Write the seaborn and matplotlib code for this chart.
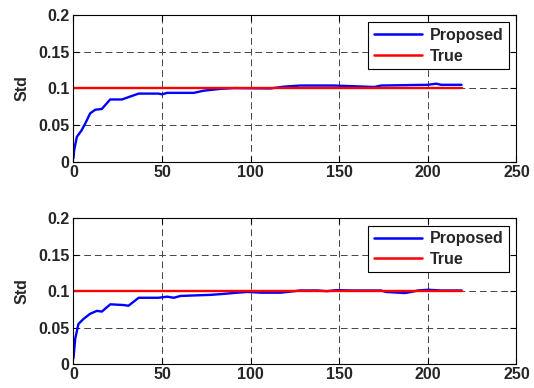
import numpy as np
import pandas as pd
import matplotlib
matplotlib.use("Agg")
import matplotlib.pyplot as plt
import seaborn as sns

# ---- data ----
top_x = [0, 0.4, 1.9, 4.6, 6.6, 9.4, 12.3, 16, 17.8, 20.7, 27.4, 32, 36.8, 48, 50,
         52.8, 60.4, 67.9, 73.6, 83, 90.5, 111, 118.8, 128, 137.7, 147, 169.8,
         173.6, 200, 204.7, 207.5, 219]
top_y = [0.005, 0.016, 0.034, 0.043, 0.052, 0.066, 0.071, 0.072, 0.077, 0.085, 0.085,
         0.089, 0.093, 0.093, 0.092, 0.094, 0.094, 0.094, 0.097, 0.0995, 0.1005,
         0.100, 0.1025, 0.104, 0.104, 0.104, 0.102, 0.104, 0.105, 0.1065, 0.105, 0.105]

bot_x = [0, 0.4, 1, 2.8, 5.7, 9.4, 13.2, 16, 20.8, 28.3, 31, 36.8, 48, 52.8, 56.6,
         60.4, 77.4, 83, 87.8, 92.5, 98, 105.7, 117, 124.5, 128, 137.7, 143, 148.5,
         156.4, 173.5, 176.4, 186.8, 190.6, 194.4, 200, 207.5, 219]
bot_y = [0.008, 0.019, 0.035, 0.055, 0.062, 0.069, 0.073, 0.072, 0.082, 0.081, 0.080,
         0.091, 0.091, 0.0925, 0.091, 0.0935, 0.095, 0.096, 0.097, 0.098, 0.099,
         0.098, 0.098, 0.100, 0.101, 0.101, 0.100, 0.1015, 0.101, 0.101, 0.099,
         0.0975, 0.099, 0.101, 0.102, 0.101, 0.101]

true_x = [0, 219]
true_y = [0.1, 0.1]

x_ticks = [0, 50, 100, 150, 200, 250]
y_ticks = [0, 0.05, 0.1, 0.15, 0.2]
y_ticklabels = ["0", "0.05", "0.1", "0.15", "0.2"]
series_names = ["Proposed", "True"]
ylabel = "Std"

sns.set_theme(style="white")
plt.rcParams["font.family"] = ["Liberation Sans", "DejaVu Sans"]
plt.rcParams["font.weight"] = "bold"

fig = plt.figure(figsize=(5.34, 3.88), dpi=100)
ax1 = fig.add_axes([0.1376, 0.583, 0.8296, 0.378])
ax2 = fig.add_axes([0.1376, 0.0619, 0.8296, 0.3751])

palette = {"Proposed": (0, 0, 1), "True": (1, 0, 0)}
FS = 11.5

for ax, xs, ys in [(ax1, top_x, top_y), (ax2, bot_x, bot_y)]:
    df = pd.concat([
        pd.DataFrame({"x": xs, "y": ys, "series": series_names[0]}),
        pd.DataFrame({"x": true_x, "y": true_y, "series": series_names[1]}),
    ])
    sns.lineplot(data=df, x="x", y="y", hue="series", palette=palette,
                 hue_order=series_names, ax=ax, linewidth=1.7,
                 estimator=None, sort=False, legend=True)
    ax.set_xlim(0, 250)
    ax.set_ylim(0, 0.2)
    ax.set_xticks(x_ticks)
    ax.set_yticks(y_ticks)
    ax.set_yticklabels(y_ticklabels)
    ax.set_xlabel("")
    ax.set_ylabel(ylabel, fontsize=FS, fontweight="bold")
    ax.yaxis.set_label_coords(-0.1, 0.5)
    ax.grid(True, color="#444444", linestyle=(0, (7, 4)), linewidth=0.7)
    ax.tick_params(direction="in", length=4, width=0.8, color="black",
                   labelsize=FS, top=True, right=True,
                   bottom=True, left=True)
    ax.tick_params(axis="x", pad=2.5)
    ax.tick_params(axis="y", pad=3)
    for lab in ax.get_xticklabels() + ax.get_yticklabels():
        lab.set_fontweight("bold")
    for s in ax.spines.values():
        s.set_visible(True)
        s.set_color("black")
        s.set_linewidth(0.8)
    leg = ax.legend(loc="upper right", frameon=True, fancybox=False,
                    framealpha=1, edgecolor="black", fontsize=FS,
                    handlelength=3.0, borderaxespad=0.45, labelspacing=0.35,
                    borderpad=0.35, handletextpad=0.5)
    leg.get_frame().set_linewidth(0.8)
    for t in leg.get_texts():
        t.set_fontweight("bold")
    for h in leg.get_lines():
        h.set_linewidth(1.8)

fig.savefig("out.png", dpi=100)
